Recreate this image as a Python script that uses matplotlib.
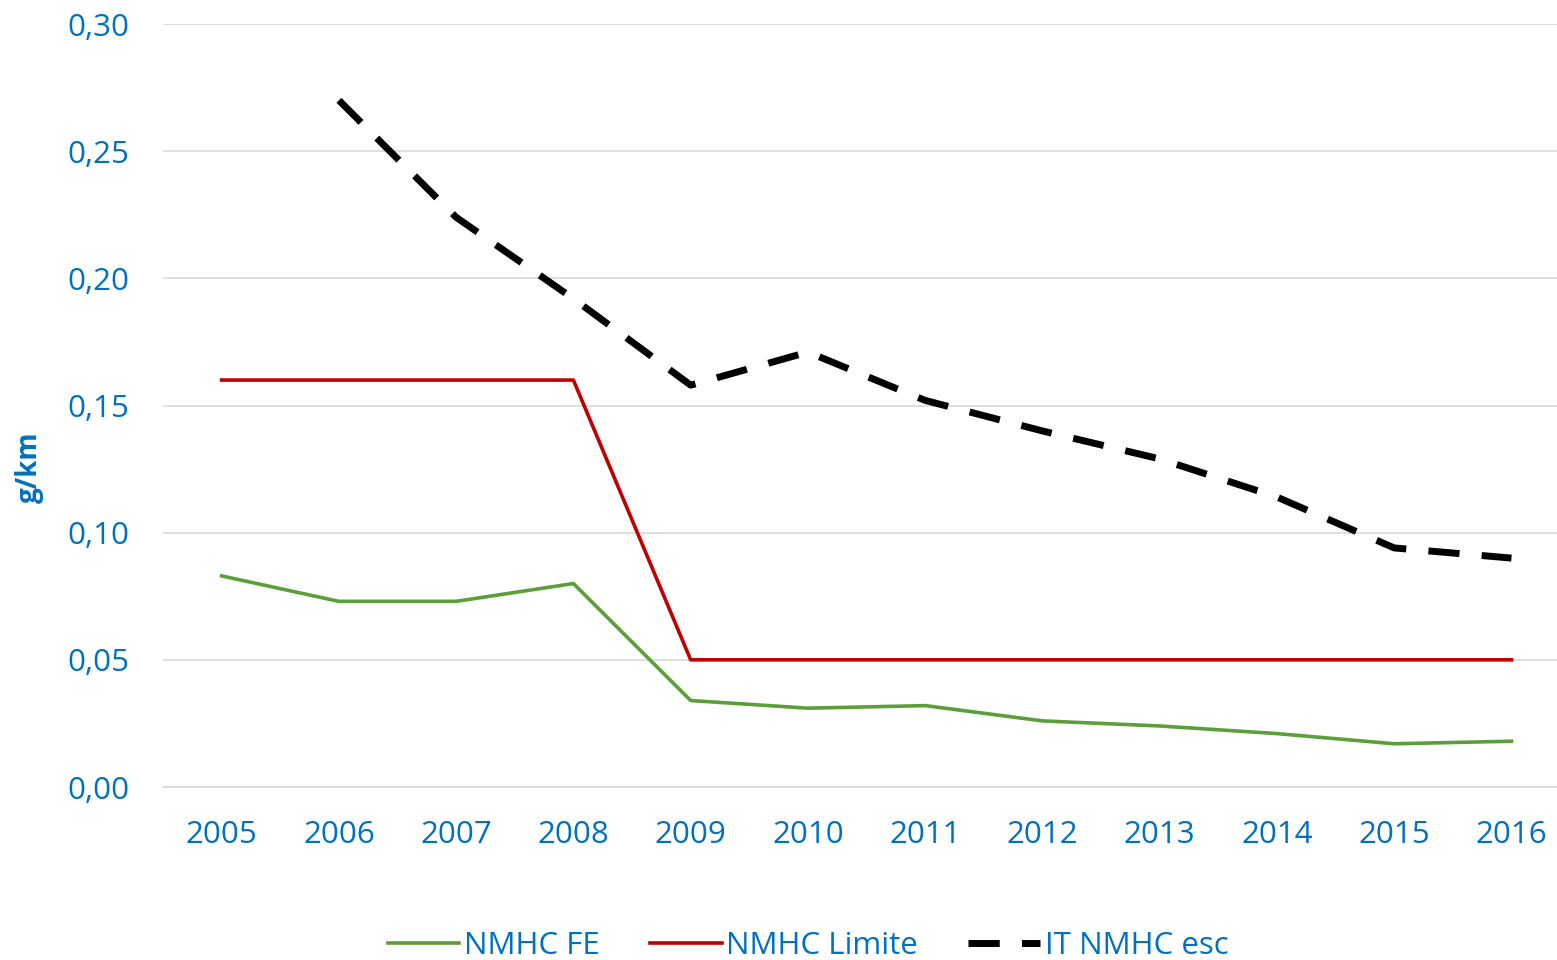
import matplotlib
matplotlib.use("Agg")
import matplotlib.pyplot as plt
from matplotlib.ticker import FuncFormatter

years = ["2005", "2006", "2007", "2008", "2009", "2010", "2011", "2012", "2013", "2014", "2015", "2016"]
nmhc_fe = [0.083, 0.073, 0.073, 0.080, 0.034, 0.031, 0.032, 0.026, 0.024, 0.021, 0.017, 0.018]
nmhc_limite = [0.16, 0.16, 0.16, 0.16, 0.05, 0.05, 0.05, 0.05, 0.05, 0.05, 0.05, 0.05]
it_years = years[1:]
it_nmhc_esc = [0.270, 0.224, 0.192, 0.158, 0.171, 0.152, 0.140, 0.129, 0.114, 0.094, 0.090]

blue = "#0070C0"
plt.rcParams["font.family"] = ["Open Sans", "DejaVu Sans"]

fig = plt.figure(figsize=(15.57, 9.6), dpi=100)
ax = fig.add_axes([0.1047, 0.1802, 0.9037, 0.7948])

x = list(range(len(years)))
ax.plot(x, nmhc_fe, color="#5B9E3A", lw=2.6, label="NMHC FE")
ax.plot(x, nmhc_limite, color="#C00000", lw=2.6, label="NMHC Limite")
ax.plot(x[1:], it_nmhc_esc, color="black", lw=5, dashes=(4.5, 3.2), label="IT NMHC esc")

ax.set_xlim(-0.5, 11.5)
ax.set_ylim(0, 0.30)
ax.set_yticks([0, 0.05, 0.10, 0.15, 0.20, 0.25, 0.30])
ax.yaxis.set_major_formatter(FuncFormatter(lambda v, p: f"{v:.2f}".replace(".", ",")))
ax.set_xticks(x)
ax.set_xticklabels(years)
ax.grid(axis="y", color="#D9D9D9", lw=1.2)
ax.set_axisbelow(True)
for s in ["top", "right", "left"]:
    ax.spines[s].set_visible(False)
ax.spines["bottom"].set_color("#D9D9D9")
ax.spines["bottom"].set_linewidth(1.2)
ax.tick_params(axis="both", length=0, labelsize=22.5, colors=blue)
ax.tick_params(axis="x", pad=24)
ax.tick_params(axis="y", pad=24)
fig.text(0.019, 0.513, "g/km", color=blue, fontsize=20, fontweight="bold",
         rotation=90, ha="center", va="center")

fig.legend(loc="lower center", bbox_to_anchor=(0.519, -0.03), ncol=3, frameon=False,
           fontsize=22.5, labelcolor=blue, handlelength=2.3, handletextpad=0.15, columnspacing=1.6)

fig.savefig("out.png", dpi=100)
